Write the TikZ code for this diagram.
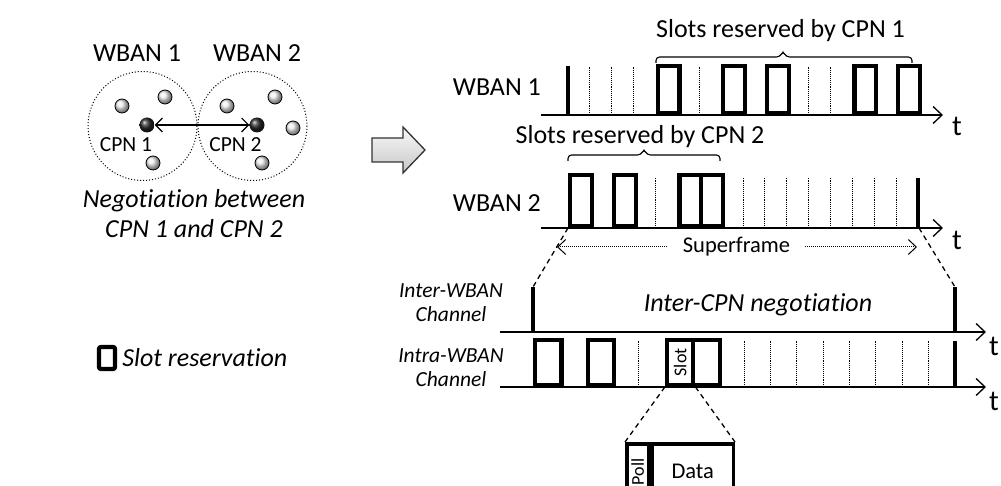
\documentclass[tikz,border=0pt]{standalone}
\usepackage{fontspec}
\setmainfont{Carlito}[Ligatures=NoCommon]
\usetikzlibrary{arrows.meta,positioning,calc}

\newcommand{\fsBig}{\fontsize{26}{30}\selectfont}
\newcommand{\fsMid}{\fontsize{22.5}{24}\selectfont}
\newcommand{\fsSmall}{\fontsize{21.5}{24}\selectfont}
\newcommand{\fsTiny}{\fontsize{18}{20}\selectfont}

\tikzset{
  slotbox/.style={rectangle,draw,line width=4.2pt,fill=white,inner sep=0pt,
                  anchor=south west},
  gridline/.style={densely dotted,line width=0.9pt},
  tickline/.style={line width=3.8pt},
  timeaxis/.style={line width=1.6pt,
                   -{Straight Barb[length=9pt,width=17pt,line width=1.3pt]}},
  zoomline/.style={line width=1.3pt,dash pattern=on 5pt off 4pt},
  tlabel/.style={font=\fontsize{29}{30}\selectfont,inner sep=0pt},
  bracket/.style={line width=1.1pt,rounded corners=3.5pt},
  sensor/.style={circle,draw=black,line width=0.8pt,shading=ball,ball color=white!85!gray,
                 minimum size=14pt,inner sep=0pt},
  coord/.style={circle,shading=ball,ball color=black!85,
                minimum size=15pt,inner sep=0pt},
}

\begin{document}
\begin{tikzpicture}[x=1pt,y=-1pt,every node/.style={inner sep=0pt}]
  \useasboundingbox (0,0) rectangle (1001,486);

  % left panel: the two WBANs
  \node[font=\fsBig] (wban1) at (137,53) {WBAN 1};
  \node[font=\fsBig] (wban2) at (257,53) {WBAN 2};
  \draw[dotted,line width=1pt] (142.5,126) circle[radius=54.5];
  \draw[dotted,line width=1pt] (252.5,126) circle[radius=54.5];

  \node[coord] (cpn1) at (147,125) {};
  \node[coord] (cpn2) at (257,125) {};
  \foreach \n/\p in {s1/{122,106},s2/{165,97},s3/{153,163},
                     s4/{227,106},s5/{275,97},s6/{293,128},s7/{262,163}}
    \node[sensor] (\n) at (\p) {};
  \draw[line width=1.1pt,{Straight Barb[length=7pt,width=14pt]}-{Straight Barb[length=7pt,width=14pt]}]
    (cpn1) -- (cpn2);
  \node[font=\fsSmall] (cpn1lbl) at (126,145) {CPN 1};
  \node[font=\fsSmall] (cpn2lbl) at (235.5,145) {CPN 2};
  \node[font=\fsBig\itshape,align=center] (nego) at (194,214)
    {Negotiation between\\CPN 1 and CPN 2};

  % grey block arrow
  \draw[draw=black!80,line width=1.3pt,top color=white!95!gray,bottom color=black!22]
    (372,138) -- (403,138) -- (403,127) -- (425,150) -- (403,173)
    -- (403,162) -- (372,162) -- cycle;

  % legend
  \node[slotbox,anchor=center,rounded corners=2pt,minimum width=16pt,
        minimum height=22pt] (legend) at (107,358) {};
  \node[font=\fsBig\itshape,right=5pt of legend] (legendtxt) {Slot reservation};

  % WBAN 1 superframe
  \coordinate (w1s) at (541,115);
  \coordinate (w1e) at (943,115);
  \foreach \k in {1,2,3,6,11,12}
    \draw[gridline] (568+\k*21.875,115) -- ++(0,-48);
  \draw[tickline] (568,115) -- ++(0,-49);
  \foreach \k in {4,7,9,13,15}
    \node[slotbox,minimum width=21.875pt,minimum height=46.5pt] (a\k)
      at (568+\k*21.875,115) {};
  \draw[timeaxis] (w1s) -- (w1e);
  \node[tlabel] (t1) at (957,126) {t};
  \node[font=\fsBig,anchor=east] (row1) at (541,87) {WBAN 1};
  \coordinate (br1l) at (656,63);
  \coordinate (br1r) at (912,63);
  \coordinate (br1m) at (783,51);
  \draw[bracket] (br1l) |- ($(br1m)+(-3,6)$) -- (br1m) -- ($(br1m)+(3,6)$) -| (br1r);
  \node[font=\fsBig] (res1) at (780.5,31) {Slots reserved by CPN 1};

  % WBAN 2 superframe
  \coordinate (w2s) at (541,228);
  \coordinate (w2e) at (943,228);
  \coordinate (w2k) at (919,228);
  \foreach \k in {4,8,9,10,11,12,13,14,15}
    \draw[gridline] (568+\k*21.875,228) -- ++(0,-50);
  \draw[tickline] (918,228) -- ++(0,-50);
  \foreach \k in {0,2,5,6}
    \node[slotbox,minimum width=21.875pt,minimum height=50.5pt] (b\k)
      at (568+\k*21.875,228) {};
  \draw[timeaxis] (w2s) -- (w2e);
  \node[tlabel] (t2) at (957,240) {t};
  \node[font=\fsBig,anchor=east] (row2) at (541,203) {WBAN 2};
  \coordinate (br2l) at (568,161);
  \coordinate (br2r) at (720,161);
  \coordinate (br2m) at (644,149);
  \draw[bracket] (br2l) |- ($(br2m)+(-3,6)$) -- (br2m) -- ($(br2m)+(3,6)$) -| (br2r);
  \node[font=\fsBig] (res2) at (640,137) {Slots reserved by CPN 2};

  % superframe length
  \node[font=\fsMid] (sf) at (736.5,247) {Superframe};
  \coordinate (sfl) at (557,247);
  \coordinate (sfr) at (917,247);
  \draw[densely dotted,line width=1pt,-{Straight Barb[length=8pt,width=15pt,line width=1pt]}]
    ([xshift=-16pt]sf.west) -- (sfl);
  \draw[densely dotted,line width=1pt,-{Straight Barb[length=8pt,width=15pt,line width=1pt]}]
    ([xshift=15pt]sf.east) -- (sfr);

  % inter-WBAN channel
  \coordinate (ins) at (500,332);
  \coordinate (ine) at (986,332);
  \coordinate (ikl) at (533,287);
  \coordinate (ikr) at (955,287);
  \draw[tickline] (533,332) -- (ikl);
  \draw[tickline] (955,332) -- (ikr);
  \draw[timeaxis] (ins) -- (ine);
  \node[tlabel] (t3) at (994,346) {t};
  \node[font=\fsSmall\itshape,align=center] (interlbl) at (451,303)
    {Inter-WBAN\\Channel};
  \node[font=\fsBig\itshape] (icpn) at (758,305) {Inter-CPN negotiation};

  % intra-WBAN channel
  \coordinate (ras) at (500,387);
  \coordinate (rae) at (986,387);
  \foreach \k in {4,8,9,10,11,12,13,14,15}
    \draw[gridline] (533+\k*26.375,387) -- ++(0,-47);
  \draw[tickline] (955,387) -- ++(0,-46);
  \foreach \k in {0,2,5,6}
    \node[slotbox,minimum width=26.375pt,minimum height=45pt] (c\k)
      at (533+\k*26.375,387) {};
  \node[font=\fsTiny,rotate=90] (slottxt) at (c5) {Slot};
  \draw[timeaxis] (ras) -- (rae);
  \node[tlabel] (t4) at (994,401) {t};
  \node[font=\fsSmall\itshape,align=center] (intralbl) at (451,368)
    {Intra-WBAN\\Channel};

  % slot detail
  \node[rectangle,draw,line width=3.5pt,inner sep=0pt,anchor=north west,
        minimum width=22pt,minimum height=56pt] (poll) at (625,442) {};
  \node[rectangle,draw,line width=3.5pt,inner sep=0pt,anchor=north west,
        minimum width=81pt,minimum height=56pt,font=\fsMid] (data)
        at (poll.north east) {Data};
  \node[font=\fsTiny,rotate=90] (polltxt) at (poll) {Poll};

  % zoom lines
  \draw[zoomline] (b0.south west) -- (ikl);
  \draw[zoomline] (w2k) -- (ikr);
  \draw[zoomline] (c5.south west) -- (poll.north west);
  \draw[zoomline] (c5.south east) -- (data.north east);
\end{tikzpicture}
\end{document}
